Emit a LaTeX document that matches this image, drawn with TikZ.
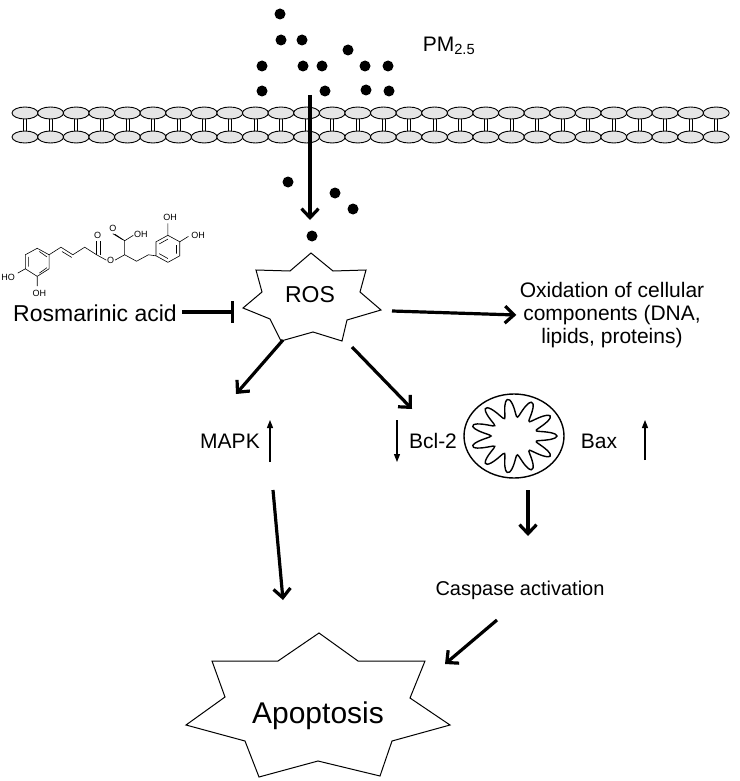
\documentclass[tikz,border=0pt]{standalone}
\usepackage{fontspec}
\setmainfont{Liberation Sans}
\usepackage{tikz}
\usetikzlibrary{arrows,arrows.meta,shapes,positioning}

\begin{document}
\begin{tikzpicture}[x=1pt,y=-1pt,
    path/.style={line width=3.2pt, -{Straight Barb[length=9pt,width=17pt,line width=3.2pt]}},
    small/.style={-{Triangle[length=8pt,width=6pt]}, line width=1.2pt},
    lipid/.style={draw, line width=0.9pt, fill=gray!20, ellipse, minimum width=26pt, minimum height=12pt, inner sep=0pt},
    bond/.style={line width=0.6pt},
    lbl/.style={font=\fontsize{21}{24}\selectfont, align=center}]
    \useasboundingbox (0,0) rectangle (739,781);

    % membrane
    \foreach \i in {0,...,27} {
        \node[lipid] (up\i) at (25+25.6*\i,113) {};
        \node[lipid] (lo\i) at (25+25.6*\i,137) {};
        \draw[line width=0.8pt] ([xshift=-1.5pt]up\i.south) -- ([xshift=-1.5pt]lo\i.north)
                                ([xshift=1.5pt]up\i.south) -- ([xshift=1.5pt]lo\i.north);
    }

    % particles
    \foreach \x/\y in {280/14,281/40,302/40,262/66,303/66,322/66,348/50,365/66,388/66,262/91,325/91,366/90,389/91,288/182,335/193,353/209,312/236}
        \fill (\x,\y) circle (5.5pt);
    \node[lbl, font=\fontsize{21}{24}\selectfont] (pm) at (449,46) {PM\textsubscript{2.5}};
    \coordinate (entry) at (310,95);
    \coordinate (inside) at (310,220);
    \draw[path] (entry) -- (inside);

    % ROS star
    \draw[line width=1pt, fill=white] (311,253) -- (333,271) -- (366,270) -- (360,292) -- (381,310) -- (347,320)
        -- (342,341) -- (313,332) -- (281,341) -- (270,319) -- (243,308) -- (262,292) -- (256,270) -- (290,271) -- cycle;
    \node[lbl, font=\fontsize{23}{26}\selectfont] (ros) at (310,295) {ROS};

    % rosmarinic acid structure
    \begin{scope}[bond, shift={(-6,-12)}, scale=1.08]
        \draw (40,241) -- (51,247) -- (51,260) -- (40,267) -- (29,260) -- (29,247) -- cycle;
        \draw (32,249) -- (32,258) (42,264) -- (49,259) (42,244) -- (49,249);
        \draw (51,247) -- (62,240) -- (73,247) -- (84,240) -- (95,247);
        \draw (63,244) -- (72,249.5);
        \draw (95,247) -- (95,234) (98,247) -- (98,234);
        \draw (95,247) -- (104,252) (112,252) -- (121,247) -- (132,253) -- (143,247);
        \draw (121,247) -- (121,234) -- (112,228) (119,233) -- (110,227.5) (121,234) -- (129,229);
        \draw (150,235) -- (161,229) -- (172,235) -- (172,248) -- (161,254) -- (150,248) -- cycle (143,247) -- (150,248);
        \draw (153,237) -- (161,232.5) (169,238) -- (169,246) (153,246) -- (161,250.5);
        \draw (161,229) -- (161,218) (172,235) -- (180,230);
        \draw (29,260) -- (22,264) (40,267) -- (40,276);
        \node[font=\fontsize{9}{10}\selectfont, inner sep=0pt] at (96,229) {O};
        \node[font=\fontsize{9}{10}\selectfont, inner sep=0pt] at (108,252) {O};
        \node[font=\fontsize{9}{10}\selectfont, inner sep=0pt] at (110,223) {O};
        \node[font=\fontsize{9}{10}\selectfont, inner sep=0pt] at (136,228) {OH};
        \node[font=\fontsize{9}{10}\selectfont, inner sep=0pt] at (163,212) {OH};
        \node[font=\fontsize{9}{10}\selectfont, inner sep=0pt] at (189,229) {OH};
        \node[font=\fontsize{9}{10}\selectfont, inner sep=0pt] at (13,268) {HO};
        \node[font=\fontsize{9}{10}\selectfont, inner sep=0pt] at (42,283) {OH};
    \end{scope}

    \node[lbl, font=\fontsize{23}{26}\selectfont] (ra) at (95,313) {Rosmarinic acid};
    \node[lbl] (oxid) at (612,315) {Oxidation of cellular\\[-1pt] components (DNA,\\[-1pt] lipids, proteins)};
    \draw[line width=3.2pt, -{Bar[width=22pt,line width=3.2pt]}] (182,312) -- (234,312);
    \draw[path] (392,311) -- (oxid.west);

    % MAPK branch
    \node[lbl] (mapk) at (230,441) {MAPK};
    \draw[small] (270,462) -- (270,420);
    \draw[path] (283,340) -- (236,394);
    \draw[path] (273,490) -- (283,600);

    % mitochondrial branch
    \node[lbl] (bcl) at (433,441) {Bcl-2};
    \draw[small] (397,420) -- (397,462);
    \draw[line width=1.4pt] (514,436) ellipse (50pt and 42pt);
    \draw[line width=1.4pt] plot[smooth cycle, domain=0:357, samples=120]
        ({514+(33+10*cos(11*\x))*cos(\x)}, {436+(28+9*cos(11*\x))*sin(\x)});
    \coordinate (mito) at (514,436);
    \node[lbl] (bax) at (599,441) {Bax};
    \draw[small] (645,460) -- (645,420);
    \draw[path] (528,490) -- (528,536);
    \draw[path] (352,347) -- (412,409);
    \node[lbl, font=\fontsize{20}{24}\selectfont] (casp) at (520,590) {Caspase activation};
    \draw[path] (497,620) -- (445,664);

    % apoptosis
    \draw[line width=1pt, fill=white] (319,633) -- (358,661) -- (425,661) -- (410,698) -- (450,725) -- (392,741)
        -- (380,776) -- (318,761) -- (259,777) -- (245,741) -- (186,725) -- (225,697) -- (212,661) -- (278,661) -- cycle;
    \node[lbl, font=\fontsize{30}{32}\selectfont] (apop) at (318,716) {Apoptosis};
\end{tikzpicture}
\end{document}
